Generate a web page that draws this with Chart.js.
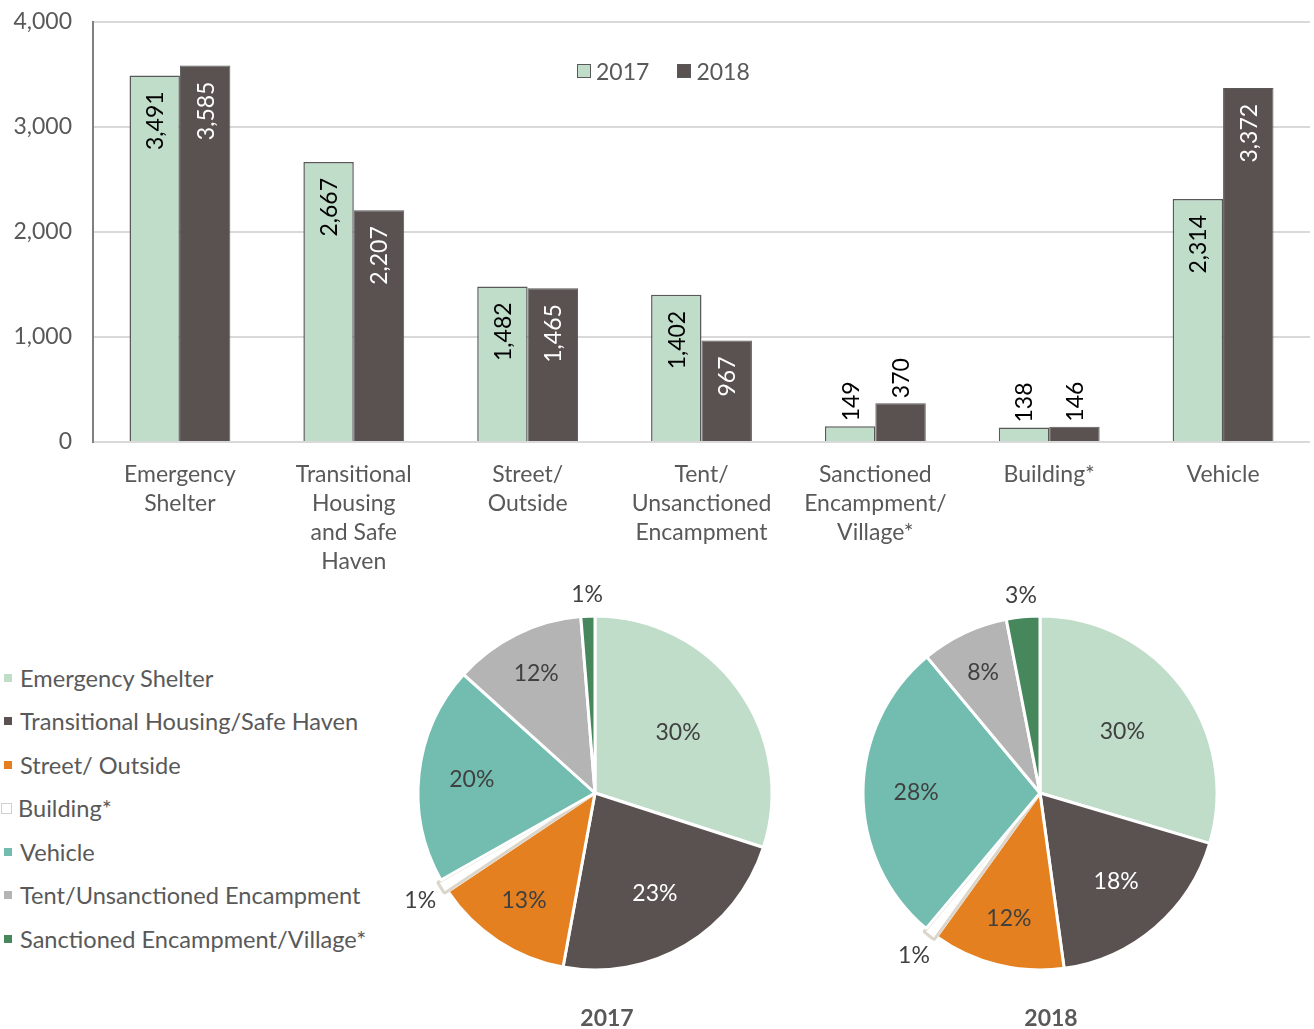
<!DOCTYPE html>
<html>
<head>
<meta charset="utf-8">
<script src="https://cdn.jsdelivr.net/npm/chart.js@4.4.1/dist/chart.umd.min.js"></script>
<style>
  body { margin: 0; background: #fff; font-family: Lato, sans-serif; color: #595959; }
  #wrap { position: relative; width: 1314px; height: 1029px; overflow: hidden; }
  #barBox { position: absolute; left: 0; top: 0; width: 1314px; height: 580px; }
  .pieBox { position: absolute; width: 460px; height: 460px; }
  #topLegend { position: absolute; left: 577px; top: 57px; font-size: 23px; display: flex; gap: 28px; }
  #topLegend span.item { display: flex; align-items: center; }
  #topLegend i { display: inline-block; width: 12px; height: 12px; border: 1.5px solid #595959; margin-right: 5px; }
  #pieLegend { position: absolute; left: 4px; top: 656px; font-size: 23.6px; }
  #pieLegend div { height: 43.5px; display: flex; align-items: center; white-space: nowrap; }
  #pieLegend i { display: inline-block; width: 8px; height: 8px; margin-right: 8px; }
  .pieTitle { position: absolute; top: 1003px; font-size: 23px; font-weight: bold; width: 120px; text-align: center; }
</style>
</head>
<body>
<div id="wrap">
  <div id="barBox"><canvas id="barChart"></canvas></div>
  <div id="topLegend"></div>
  <div id="pieLegend"></div>
  <div class="pieBox" style="left:365px; top:563px;"><canvas id="pie2017"></canvas></div>
  <div class="pieBox" style="left:810px; top:563px;"><canvas id="pie2018"></canvas></div>
  <div class="pieTitle" style="left:547px;">2017</div>
  <div class="pieTitle" style="left:991px;">2018</div>
</div>
<script>
// dados
const categories = [
    ['Emergency', 'Shelter'],
    ['Transitional', 'Housing', 'and Safe', 'Haven'],
    ['Street/', 'Outside'],
    ['Tent/', 'Unsanctioned', 'Encampment'],
    ['Sanctioned', 'Encampment/', 'Village*'],
    ['Building*'],
    ['Vehicle']
];
const years = ['2017', '2018'];
const values2017 = [3491, 2667, 1482, 1402, 149, 138, 2314];
const values2018 = [3585, 2207, 1465, 967, 370, 146, 3372];
const yTicks = [0, 1000, 2000, 3000, 4000];

// ordem das fatias (índices nas categorias acima)
const pieLabels = ['Emergency Shelter', 'Transitional Housing/Safe Haven', 'Street/ Outside', 'Building*', 'Vehicle', 'Tent/Unsanctioned Encampment', 'Sanctioned Encampment/Village*'];
const pieOrder = [0, 1, 2, 5, 6, 3, 4];

const barColors = ['#C0DDCA', '#5A5250'];
const pieColors = ['#C0DDCA', '#5A5250', '#E4801F', '#FFFFFF', '#72BDB0', '#B4B4B4', '#46875C'];
const pieBorders = ['#fff', '#fff', '#fff', '#DCD5CA', '#fff', '#fff', '#fff'];
const pieText = ['#404040', '#FFFFFF', '#404040', '#404040', '#404040', '#404040', '#404040'];
// distância do rótulo ao centro, em frações do raio
const pieLabelRadius = [0.58, 0.66, 0.73, 1.16, 0.70, 0.75, 1.12];

const FONT = 'Lato, sans-serif';
const TEXT = '#595959';

// legenda superior
document.getElementById('topLegend').innerHTML = years.map((y, i) =>
    `<span class="item"><i style="background:${barColors[i]}"></i>${y}</span>`).join('');

// legenda das pizzas
document.getElementById('pieLegend').innerHTML = pieLabels.map((l, i) => {
    const box = i === 3 ? 'width:9px;height:9px;border:1.5px solid #D0D0D0;background:#fff;margin-left:-3px;margin-right:6px;' : `background:${pieColors[i]};`;
    return `<div><i style="${box}"></i>${l}</div>`;
}).join('');

const barLabelPlugin = {
    id: 'barLabels',
    afterDatasetsDraw(chart) {
        const ctx = chart.ctx;
        ctx.save();
        ctx.font = `23px ${FONT}`;
        chart.data.datasets.forEach((ds, i) => {
            const meta = chart.getDatasetMeta(i);
            meta.data.forEach((bar, j) => {
                const text = ds.data[j].toLocaleString('en-US');
                const w = ctx.measureText(text).width;
                const h = bar.base - bar.y;
                ctx.save();
                ctx.translate(bar.x, bar.y);
                ctx.rotate(-Math.PI / 2);
                ctx.textBaseline = 'middle';
                if (h > w + 30) {
                    ctx.fillStyle = i === 0 ? '#000' : '#fff';
                    ctx.textAlign = 'right';
                    ctx.fillText(text, -16, 1);
                } else {
                    ctx.fillStyle = '#000';
                    ctx.textAlign = 'left';
                    ctx.fillText(text, 5, 1);
                }
                ctx.restore();
            });
        });
        ctx.restore();
    }
};

new Chart(document.getElementById('barChart'), {
    type: 'bar',
    data: {
        labels: categories,
        datasets: [
            { label: years[0], data: values2017, backgroundColor: barColors[0], borderColor: '#595959', borderWidth: 1.5, borderSkipped: 'bottom' },
            { label: years[1], data: values2018, backgroundColor: barColors[1], borderColor: '#595959', borderWidth: 1, borderSkipped: 'bottom' }
        ]
    },
    options: {
        responsive: true,
        maintainAspectRatio: false,
        animation: false,
        layout: { padding: { top: 22, right: 4, left: 0, bottom: 0 } },
        datasets: { bar: { categoryPercentage: 0.58, barPercentage: 1 } },
        scales: {
            x: {
                grid: { display: false },
                border: { display: false },
                ticks: { color: TEXT, font: { family: FONT, size: 23, lineHeight: 1.26 }, maxRotation: 0, autoSkip: false, padding: 10 },
                afterFit: s => { s.height = 138; }
            },
            y: {
                min: 0, max: 4000,
                afterBuildTicks: s => { s.ticks = yTicks.map(v => ({ value: v })); },
                grid: { color: '#D9D9D9', lineWidth: 2, drawTicks: false },
                border: { display: true, color: '#7F7F7F', width: 2 },
                ticks: { color: TEXT, font: { family: FONT, size: 23 }, padding: 21, callback: v => v.toLocaleString('en-US') },
                afterFit: s => { s.width = 93; s.paddingTop = 0; s.paddingBottom = 0; }
            }
        },
        plugins: { legend: { display: false }, tooltip: { enabled: false } }
    },
    plugins: [barLabelPlugin]
});

const pieLabelPlugin = {
    id: 'pieLabels',
    afterDatasetsDraw(chart) {
        const ctx = chart.ctx;
        const meta = chart.getDatasetMeta(0);
        const data = chart.data.datasets[0].data;
        const total = data.reduce((a, b) => a + b, 0);
        ctx.save();
        ctx.font = `23px ${FONT}`;
        ctx.textAlign = 'center';
        ctx.textBaseline = 'middle';
        meta.data.forEach((arc, i) => {
            const pct = data[i] / total * 100;
            const mid = (arc.startAngle + arc.endAngle) / 2;
            const r = arc.outerRadius * pieLabelRadius[i];
            const x = arc.x + Math.cos(mid) * r;
            const y = arc.y + Math.sin(mid) * r;
            ctx.fillStyle = pieLabelRadius[i] > 1 ? '#404040' : pieText[i];
            ctx.fillText(Math.round(pct) + '%', x, y);
        });
        ctx.restore();
    }
};

function makePie(id, values) {
    const data = pieOrder.map(k => values[k]);
    new Chart(document.getElementById(id), {
        type: 'pie',
        data: {
            labels: pieLabels,
            datasets: [{
                data: data,
                backgroundColor: pieColors,
                borderColor: pieBorders,
                borderWidth: 3,
                offset: [0, 0, 0, 8, 0, 0, 0]
            }]
        },
        options: {
            responsive: true,
            maintainAspectRatio: false,
            animation: false,
            radius: 177,
            plugins: { legend: { display: false }, tooltip: { enabled: false } }
        },
        plugins: [pieLabelPlugin]
    });
}

makePie('pie2017', values2017);
makePie('pie2018', values2018);
</script>
</body>
</html>
